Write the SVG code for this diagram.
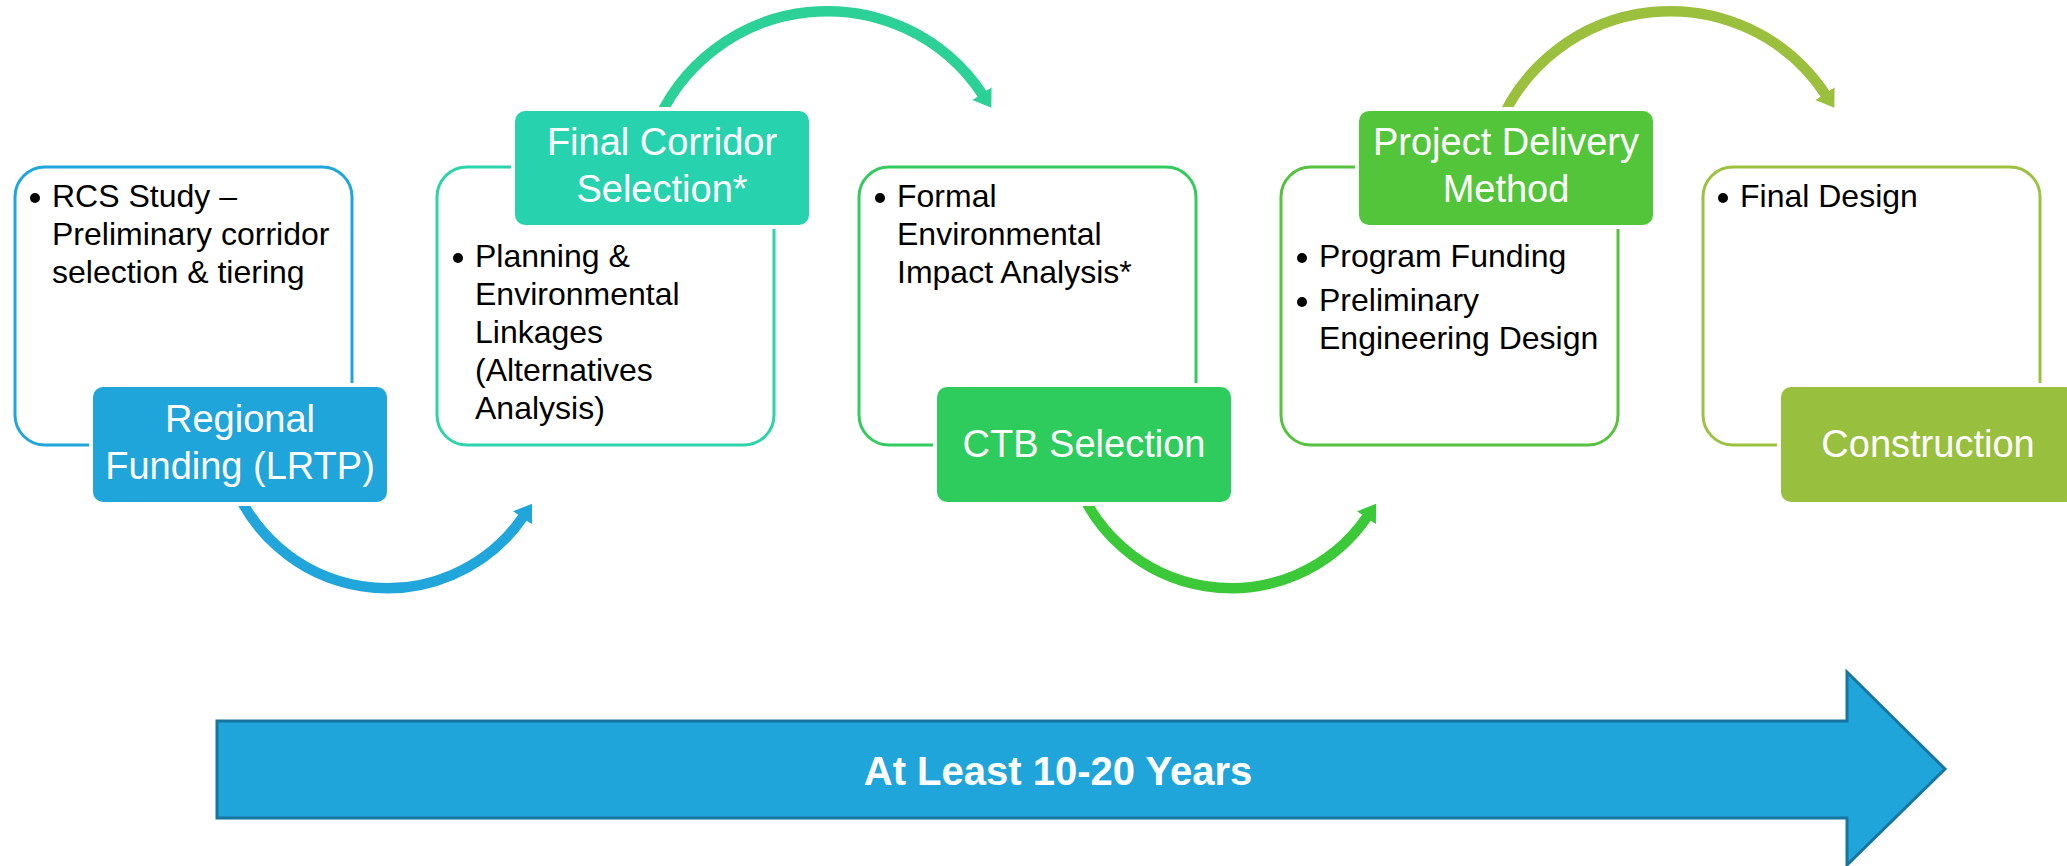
<svg xmlns="http://www.w3.org/2000/svg" width="2067" height="866" viewBox="0 0 2067 866">
  <style>
    .frame { fill: #ffffff; stroke-width: 3; }
    .label { stroke: #ffffff; stroke-width: 8; paint-order: stroke; }
    .title { font-family: "Liberation Sans", Arial, sans-serif; font-size: 38px; fill: #ffffff; text-anchor: middle; }
    .body { font-family: "Liberation Sans", Arial, sans-serif; font-size: 32px; fill: #000000; }
    .dot { fill: #000000; }
    .arc { fill: none; stroke-width: 10.5; }
    .banner { font-family: "Liberation Sans", Arial, sans-serif; font-size: 40px; font-weight: bold; fill: #ffffff; text-anchor: middle; }
  </style>
  <defs>
    <marker id="head-blue" markerUnits="userSpaceOnUse" viewBox="0 -12 18 24" markerWidth="18" markerHeight="24" refX="1" refY="0" orient="auto">
      <path d="M0,-11.5 L17,0 L0,11.5 Z" fill="#20a6db"/>
    </marker>
    <marker id="head-teal" markerUnits="userSpaceOnUse" viewBox="0 -12 18 24" markerWidth="18" markerHeight="24" refX="1" refY="0" orient="auto">
      <path d="M0,-11.5 L17,0 L0,11.5 Z" fill="#2bd196"/>
    </marker>
    <marker id="head-green" markerUnits="userSpaceOnUse" viewBox="0 -12 18 24" markerWidth="18" markerHeight="24" refX="1" refY="0" orient="auto">
      <path d="M0,-11.5 L17,0 L0,11.5 Z" fill="#3bc93a"/>
    </marker>
    <marker id="head-olive" markerUnits="userSpaceOnUse" viewBox="0 -12 18 24" markerWidth="18" markerHeight="24" refX="1" refY="0" orient="auto">
      <path d="M0,-11.5 L17,0 L0,11.5 Z" fill="#9bc03d"/>
    </marker>
  </defs>

  <rect width="2067" height="866" fill="#ffffff"/>

  <!-- curved connectors between stages (drawn under the stage labels) -->
  <g id="connectors">
    <path class="arc" stroke="#20a6db" marker-end="url(#head-blue)" d="M 229 470 A 165 165 0 0 0 523 517"/>
    <path class="arc" stroke="#2bd196" marker-end="url(#head-teal)" d="M 654 130 A 186 186 0 0 1 982.5 94.5"/>
    <path class="arc" stroke="#3bc93a" marker-end="url(#head-green)" d="M 1073 470 A 165 165 0 0 0 1367 517"/>
    <path class="arc" stroke="#9bc03d" marker-end="url(#head-olive)" d="M 1497 130 A 186 186 0 0 1 1825.5 94.5"/>
  </g>

  <!-- stage 1 -->
  <g id="stage-regional-funding">
    <rect class="frame" x="15" y="167" width="337" height="278" rx="30" stroke="#20a6db"/>
    <circle class="dot" cx="35" cy="198" r="5"/>
    <text class="body" x="52" y="207">RCS Study –</text>
    <text class="body" x="52" y="245">Preliminary corridor</text>
    <text class="body" x="52" y="283">selection &amp; tiering</text>
    <rect class="label" x="93" y="387" width="294" height="115" rx="10" fill="#1fa5da"/>
    <text class="title" x="240" y="432">Regional</text>
    <text class="title" x="240" y="479">Funding (LRTP)</text>
  </g>

  <!-- stage 2 -->
  <g id="stage-final-corridor">
    <rect class="frame" x="437" y="167" width="337" height="278" rx="30" stroke="#2dd3aa"/>
    <circle class="dot" cx="458" cy="258" r="5"/>
    <text class="body" x="475" y="267">Planning &amp;</text>
    <text class="body" x="475" y="305">Environmental</text>
    <text class="body" x="475" y="343">Linkages</text>
    <text class="body" x="475" y="381">(Alternatives</text>
    <text class="body" x="475" y="419">Analysis)</text>
    <rect class="label" x="515" y="111" width="294" height="114" rx="10" fill="#27d3ae"/>
    <text class="title" x="662" y="155">Final Corridor</text>
    <text class="title" x="662" y="202">Selection*</text>
  </g>

  <!-- stage 3 -->
  <g id="stage-ctb-selection">
    <rect class="frame" x="859" y="167" width="337" height="278" rx="30" stroke="#34cb5e"/>
    <circle class="dot" cx="880" cy="198" r="5"/>
    <text class="body" x="897" y="207">Formal</text>
    <text class="body" x="897" y="245">Environmental</text>
    <text class="body" x="897" y="283">Impact Analysis*</text>
    <rect class="label" x="937" y="387" width="294" height="115" rx="10" fill="#2ecc5c"/>
    <text class="title" x="1084" y="457">CTB Selection</text>
  </g>

  <!-- stage 4 -->
  <g id="stage-project-delivery">
    <rect class="frame" x="1281" y="167" width="337" height="278" rx="30" stroke="#56c23f"/>
    <circle class="dot" cx="1302" cy="258" r="5"/>
    <text class="body" x="1319" y="267">Program Funding</text>
    <circle class="dot" cx="1302" cy="302" r="5"/>
    <text class="body" x="1319" y="311">Preliminary</text>
    <text class="body" x="1319" y="349">Engineering Design</text>
    <rect class="label" x="1359" y="111" width="294" height="114" rx="10" fill="#53c53a"/>
    <text class="title" x="1506" y="155">Project Delivery</text>
    <text class="title" x="1506" y="202">Method</text>
  </g>

  <!-- stage 5 -->
  <g id="stage-construction">
    <rect class="frame" x="1703" y="167" width="337" height="278" rx="30" stroke="#9bc240"/>
    <circle class="dot" cx="1723" cy="198" r="5"/>
    <text class="body" x="1740" y="207">Final Design</text>
    <rect class="label" x="1781" y="387" width="294" height="115" rx="10" fill="#99bf3e"/>
    <text class="title" x="1928" y="457">Construction</text>
  </g>

  <!-- overall duration banner -->
  <g id="timeline">
    <polygon points="217,721 1847,721 1847,672 1945,769 1847,865 1847,818 217,818" fill="#1fa5da" stroke="#17759f" stroke-width="3" stroke-linejoin="miter"/>
    <text class="banner" x="1058" y="785">At Least 10-20 Years</text>
  </g>
</svg>
